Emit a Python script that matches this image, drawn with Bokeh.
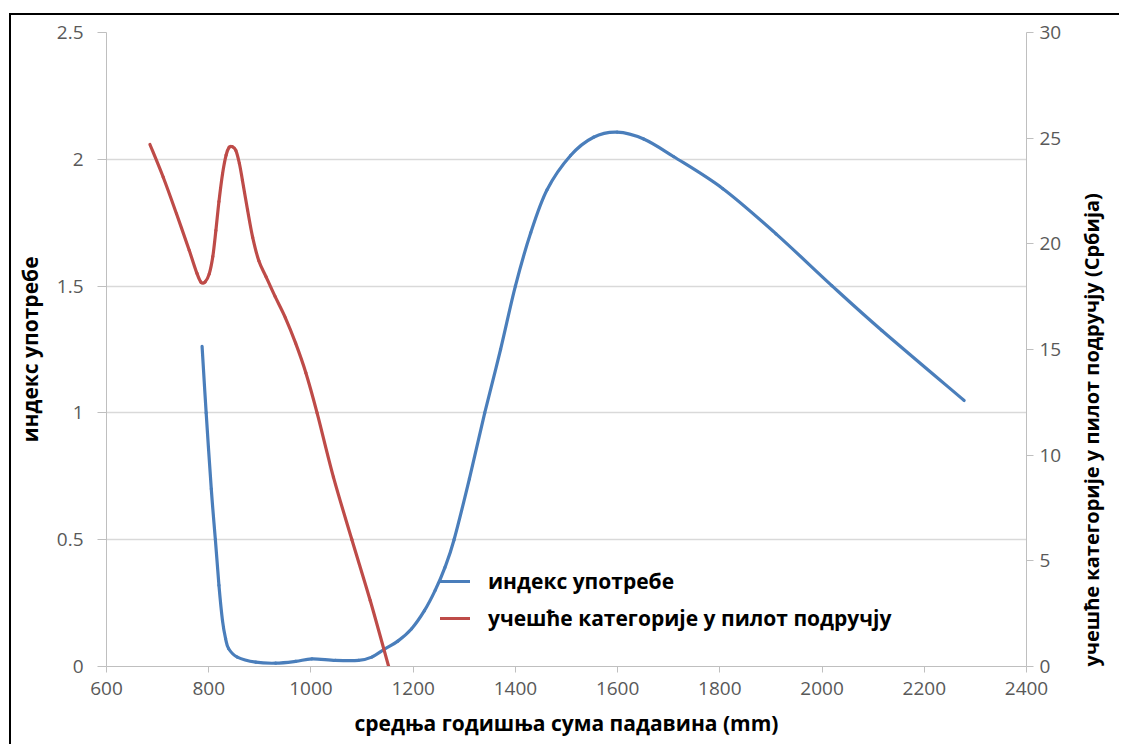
import math
import numpy as np
from bokeh.plotting import figure
from bokeh.models import Range1d, LinearAxis, FixedTicker, Legend, LegendItem
from bokeh.embed import file_html
from bokeh.resources import INLINE

# ---------------- data ----------------
blue_x = [787, 795, 805, 813, 820, 827, 833, 839, 856, 892, 931, 970, 1002, 1048,
          1093, 1119, 1145, 1170, 1197, 1222, 1243, 1262, 1280, 1310, 1340, 1371,
          1400, 1430, 1462, 1508, 1553, 1599, 1651, 1710, 1806, 1910, 2019, 2117, 2278]
blue_y = [1.262, 1.00, 0.70, 0.50, 0.32, 0.18, 0.11, 0.07, 0.037, 0.017, 0.013, 0.02,
          0.03, 0.024, 0.024, 0.037, 0.07, 0.10, 0.149, 0.22, 0.30, 0.39, 0.50, 0.74,
          1.00, 1.25, 1.50, 1.71, 1.88, 2.015, 2.087, 2.107, 2.08, 2.01, 1.884, 1.706,
          1.502, 1.325, 1.049]

red_x = [685, 711, 737, 762, 777, 785, 793, 801, 808, 814, 820, 827, 834, 840, 846,
         853, 860, 866, 876, 886, 898, 912, 930, 950, 970, 990, 1012, 1044, 1080,
         1116, 1152]
red_y = [24.70, 23.15, 21.42, 19.68, 18.6, 18.18, 18.2, 18.58, 19.4, 20.63, 22.0,
         23.31, 24.2, 24.57, 24.6, 24.42, 23.8, 23.0, 21.6, 20.31, 19.2, 18.45, 17.5,
         16.5, 15.3, 13.9, 12.0, 8.96, 6.01, 3.12, 0.0]

x_ticks = [600, 800, 1000, 1200, 1400, 1600, 1800, 2000, 2200, 2400]
left_ticks = [0, 0.5, 1, 1.5, 2, 2.5]
right_ticks = [0, 5, 10, 15, 20, 25, 30]

blue_name = "индекс употребе"
red_name = "учешће категорије у пилот подручју"
x_title = "средња годишња сума падавина (mm)"
left_title = "индекс употребе"
right_title = "учешће категорије у пилот подручју (Србија)"

# ---------------- styles ----------------
FONT = "Open Sans"
TICK_COLOR = "#595959"
AXIS_COLOR = "#bfbfbf"
GRID_COLOR = "#d9d9d9"
BLUE = "#4a7ebb"
RED = "#be4b48"


def smooth_segments(xs, ys):
    """Catmull-Rom style Bezier control points (like a spreadsheet 'smoothed line')."""
    x = np.asarray(xs, dtype=float)
    y = np.asarray(ys, dtype=float)
    xp = np.concatenate([[x[0]], x, [x[-1]]])
    yp = np.concatenate([[y[0]], y, [y[-1]]])
    n = len(x) - 1
    d = dict(x0=[], y0=[], x1=[], y1=[], cx0=[], cy0=[], cx1=[], cy1=[])
    for i in range(n):
        a, b, c, e = i, i + 1, i + 2, i + 3
        d["x0"].append(xp[b]); d["y0"].append(yp[b])
        d["x1"].append(xp[c]); d["y1"].append(yp[c])
        d["cx0"].append(xp[b] + (xp[c] - xp[a]) / 6.0)
        d["cy0"].append(yp[b] + (yp[c] - yp[a]) / 6.0)
        d["cx1"].append(xp[c] - (xp[e] - xp[b]) / 6.0)
        d["cy1"].append(yp[c] - (yp[e] - yp[b]) / 6.0)
    return d


def title_only_axis(ax, size):
    """Axis that carries only a title (no line, ticks or tick labels)."""
    ax.axis_line_color = None
    ax.major_tick_line_color = None
    ax.minor_tick_line_color = None
    ax.major_tick_out = 0
    ax.major_tick_in = 0
    ax.major_label_standoff = 0
    ax.axis_label_text_font = FONT
    ax.axis_label_text_font_size = size
    ax.axis_label_text_font_style = "bold"
    ax.axis_label_text_color = "black"


p = figure(width=1110, height=731, output_backend="svg", toolbar_location=None,
           x_range=Range1d(600, 2400), y_range=Range1d(0, 2.5))
p.margin = (13, 0, 0, 9)
p.styles = {"border-top": "2px solid #000", "border-left": "2px solid #000"}
p.min_border_left = 95
p.min_border_top = 17
p.min_border_right = 86
p.min_border_bottom = 80
p.outline_line_color = None
p.background_fill_color = "white"
p.border_fill_color = "white"

p.extra_y_ranges = {"right": Range1d(0, 30)}

xa = p.xaxis[0]
xa.ticker = FixedTicker(ticks=x_ticks)
ya = p.yaxis[0]
ya.ticker = FixedTicker(ticks=left_ticks)
ya.axis_label = left_title

ra = LinearAxis(y_range_name="right", ticker=FixedTicker(ticks=right_ticks))
p.add_layout(ra, "right")

for ax in (xa, ya, ra):
    ax.axis_line_color = AXIS_COLOR
    ax.major_tick_line_color = AXIS_COLOR
    ax.minor_tick_line_color = None
    ax.major_tick_in = 0
    ax.major_label_text_font = FONT
    ax.major_label_text_font_size = "19px"
    ax.major_label_text_color = TICK_COLOR
    ax.axis_label_text_font = FONT
    ax.axis_label_text_font_size = "21px"
    ax.axis_label_text_font_style = "bold"
    ax.axis_label_text_color = "black"

xa.major_tick_out = 6
xa.major_label_standoff = 9
ya.major_tick_out = 9
ya.major_label_standoff = 14
ya.axis_label_standoff = 10
ra.major_tick_out = 7
ra.major_label_standoff = 6

# x-axis title
xt = LinearAxis(ticker=FixedTicker(ticks=[]), axis_label=x_title,
                axis_label_standoff=11)
title_only_axis(xt, "21px")
p.add_layout(xt, "below")

# right-hand axis title, reading bottom-to-top
rt = LinearAxis(y_range_name="right", ticker=FixedTicker(ticks=[]),
                axis_label=right_title, axis_label_standoff=27)
title_only_axis(rt, "20px")
rt.axis_label_orientation = math.pi / 2
rt.axis_label_align = "start"
p.add_layout(rt, "right")

p.xgrid.visible = False
p.ygrid.ticker = FixedTicker(ticks=left_ticks)
p.ygrid.grid_line_color = GRID_COLOR
p.ygrid.grid_line_width = 1.5

bd = smooth_segments(blue_x, blue_y)
rd = smooth_segments(red_x, red_y)
bl = p.bezier(**bd, line_color=BLUE, line_width=3.2, line_cap="round")
rl = p.bezier(**rd, line_color=RED, line_width=3.2, line_cap="round",
              y_range_name="right")

legend = Legend(items=[LegendItem(label=blue_name, renderers=[bl]),
                       LegendItem(label=red_name, renderers=[rl])],
                location=(334, 34))
legend.border_line_color = None
legend.background_fill_alpha = 0
legend.padding = 0
legend.margin = 0
legend.spacing = 9
legend.glyph_width = 30
legend.glyph_height = 20
legend.label_height = 20
legend.label_standoff = 18
legend.label_text_font = FONT
legend.label_text_font_size = "21px"
legend.label_text_font_style = "bold"
legend.label_text_color = "black"
p.add_layout(legend)

open("out.html", "w").write(file_html(p, INLINE))
